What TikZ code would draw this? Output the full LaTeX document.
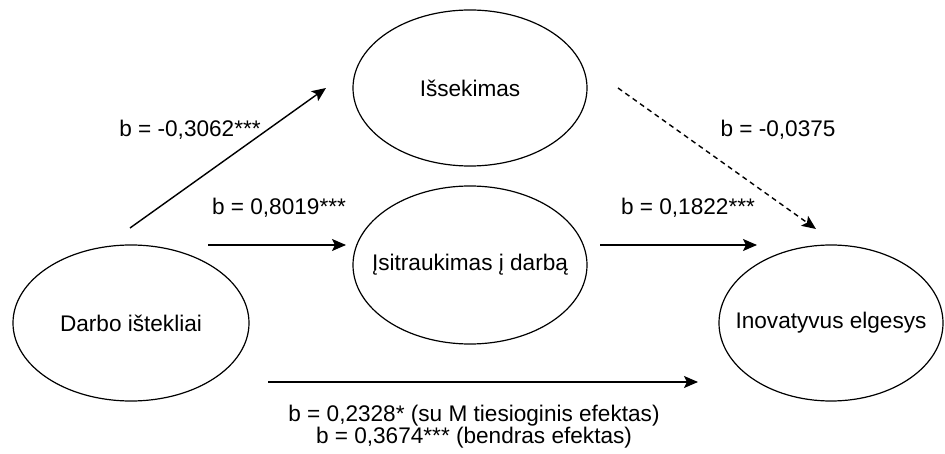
\documentclass[tikz,border=0pt]{standalone}
\usepackage{fontspec}
\setmainfont{Liberation Sans}
\usetikzlibrary{shapes.geometric,arrows.meta}
\begin{document}
\begin{tikzpicture}[x=1pt,y=-1pt,
  oval/.style={draw, ellipse, line width=1.2pt, inner sep=0pt},
  lbl/.style={font=\fontsize{22.6}{20}\selectfont, inner sep=0pt, text=black},
  conn/.style={line width=1.4pt, -{Stealth[length=14pt,width=12pt,inset=3pt]}},
  dconn/.style={conn, dash pattern=on 5pt off 4pt}]
\useasboundingbox (0,0) rectangle (945,454);
% ellipses
\node[oval, minimum width=234pt, minimum height=156pt] (isse) at (470,88) {};
\node[lbl] (issetxt) at (isse.center) {Išsekimas};
\node[oval, minimum width=234pt, minimum height=158pt] (isit) at (470,265) {};
\node[lbl] (isittxt) at (isit.center) {Įsitraukimas į darbą};
\node[oval, minimum width=236pt, minimum height=156pt] (darbo) at (131,323) {};
\node[lbl] (darbotxt) at (darbo.center) {Darbo ištekliai};
\node[oval, minimum width=224pt, minimum height=156pt] (inov) at (831,323) {};
\node[lbl] (inovtxt) at (inov.center) {Inovatyvus elgesys};
% connector end points
\coordinate (a1s) at (130,228); \coordinate (a1e) at (326,88);
\coordinate (a2s) at (208,245); \coordinate (a2e) at (346,245);
\coordinate (a3s) at (600,245); \coordinate (a3e) at (757,245);
\coordinate (a4s) at (618,88);  \coordinate (a4e) at (816,229);
\coordinate (a5s) at (268,382); \coordinate (a5e) at (698,382);
\draw[conn] (a1s) -- (a1e);
\draw[conn] (a2s) -- (a2e);
\draw[conn] (a3s) -- (a3e);
\draw[dconn] (a4s) -- (a4e);
\draw[conn] (a5s) -- (a5e);
% labels
\node[lbl] (l1) at (190,130) {b = -0,3062***};
\node[lbl] (l2) at (279,208) {b = 0,8019***};
\node[lbl] (l3) at (778,130) {b = -0,0375};
\node[lbl] (l4) at (688,208) {b = 0,1822***};
\node[lbl, align=center] (l5) at (474,427) {b = 0,2328* (su M tiesioginis efektas)\\b = 0,3674*** (bendras efektas)};
\end{tikzpicture}
\end{document}
